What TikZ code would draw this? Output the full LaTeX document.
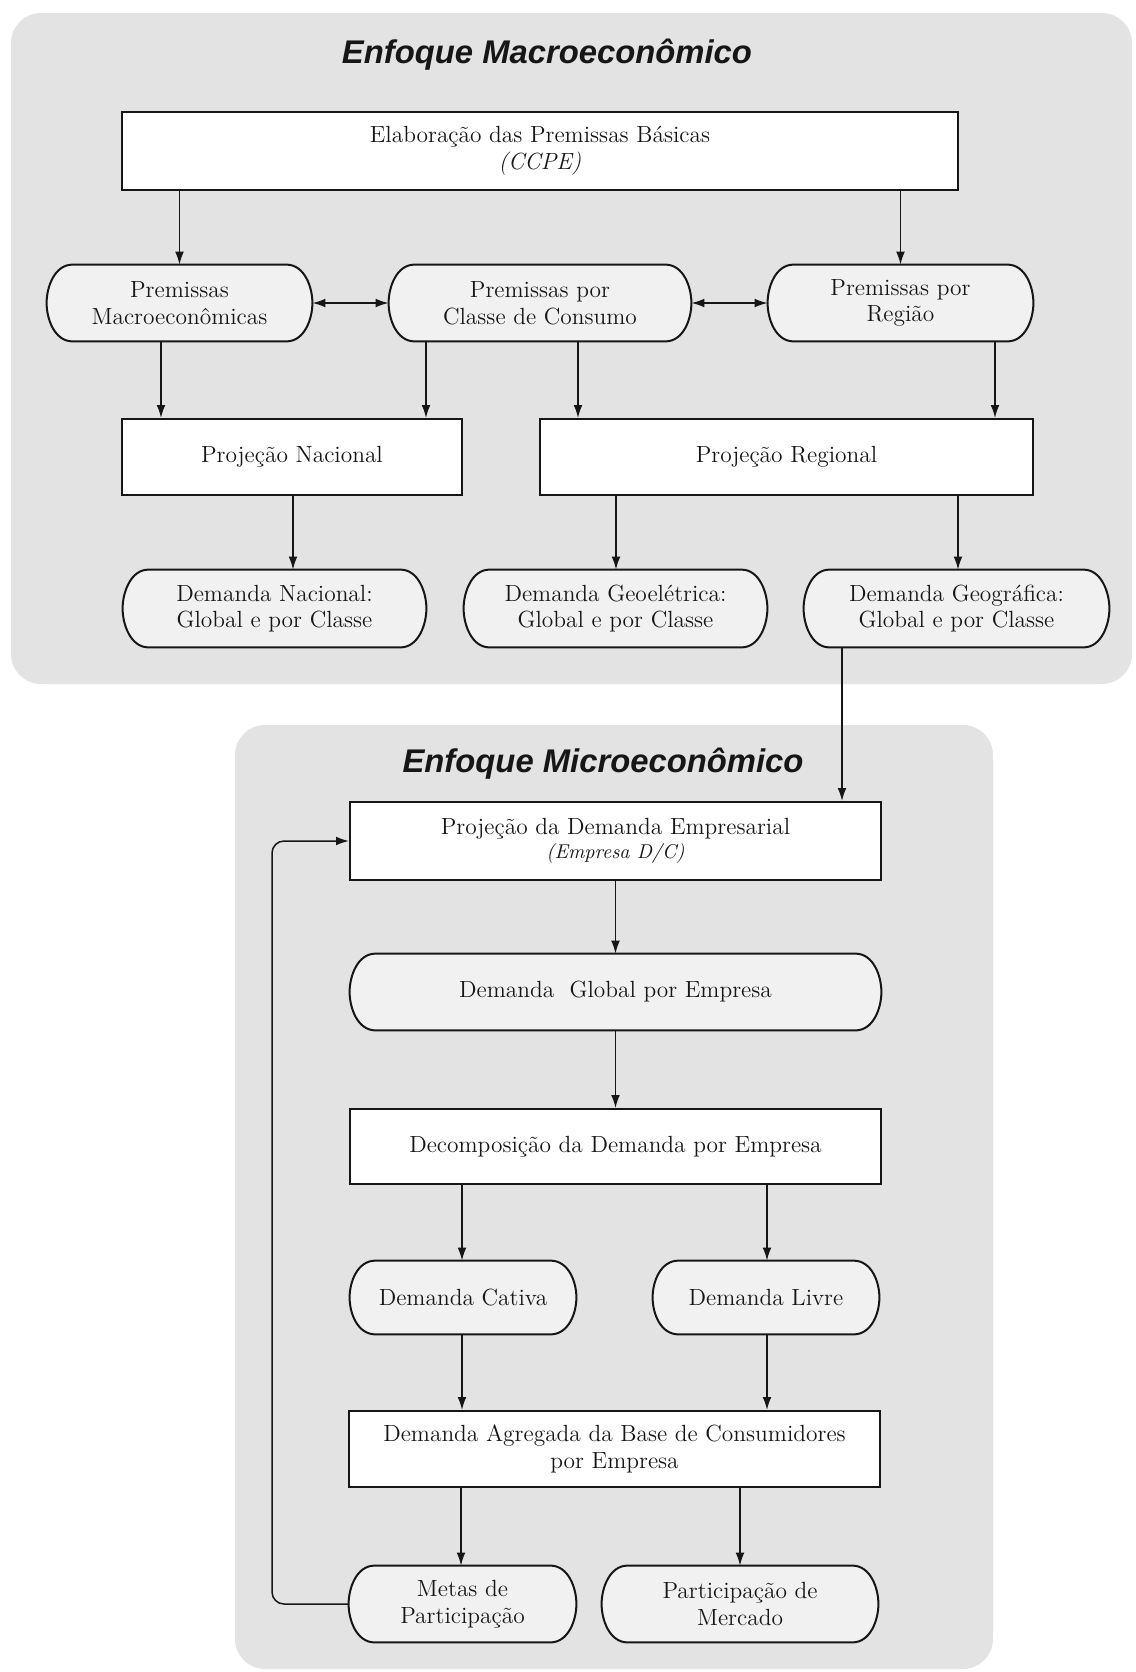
\documentclass[tikz,border=0pt]{standalone}
\usepackage{fontspec}
\newfontfamily\titlefont{Liberation Sans}
\usetikzlibrary{arrows.meta,calc,backgrounds}

\definecolor{panelgray}{RGB}{227,227,227}
\definecolor{capsulefill}{RGB}{241,241,241}
\definecolor{ink}{RGB}{22,22,22}

% outline of a rounded "capsule" step drawn around a named node
\newcommand\capsule[1]{%
  \draw[capline]
    ($(#1.north west)+(26,0)$) -- ($(#1.north east)+(-26,0)$)
    .. controls ($(#1.north east)+(-8,0)$) and ($(#1.east)+(0,-16)$) .. (#1.east)
    .. controls ($(#1.east)+(0,16)$) and ($(#1.south east)+(-8,0)$) .. ($(#1.south east)+(-26,0)$)
    -- ($(#1.south west)+(26,0)$)
    .. controls ($(#1.south west)+(8,0)$) and ($(#1.west)+(0,16)$) .. (#1.west)
    .. controls ($(#1.west)+(0,-16)$) and ($(#1.north west)+(8,0)$) .. ($(#1.north west)+(26,0)$)
    -- cycle;}

% vertical arrow leaving node #1 at horizontal offset #3 and entering node #2
\newcommand\flowdown[3]{%
  \draw[arr] ($(#1.south)+(#3,0)$) coordinate (tmp) -- (tmp |- #2.north);}

\begin{document}
\begin{tikzpicture}[x=0.5pt,y=-0.5pt,
  bodyfont/.style={font=\fontsize{11.7}{13.3}\selectfont\addfontfeatures{FakeBold=0.6}},
  lowfont/.style={font=\fontsize{12.1}{13.3}\selectfont\addfontfeatures{FakeBold=0.6,LetterSpace=1.5}},
  sz/.style 2 args={minimum width=#1*0.5pt, minimum height=#2*0.5pt},
  rectbox/.style={draw=ink, line width=1pt, fill=white, inner sep=0pt,
    align=center, text=ink, bodyfont},
  capnode/.style={inner sep=0pt, align=center, text=ink, bodyfont},
  capline/.style={draw=ink, line width=1pt, fill=capsulefill},
  panel/.style={fill=panelgray, rounded corners=15pt},
  paneltitle/.style={font=\titlefont\bfseries\itshape\fontsize{16.4}{19}\selectfont, text=ink},
  arr/.style={draw=ink, line width=0.75pt, -{Latex[length=6.5pt,width=4.4pt]}},
  dbl/.style={draw=ink, line width=0.75pt, {Latex[length=6.5pt,width=4.4pt]}-{Latex[length=6.5pt,width=4.4pt]}}
]
\useasboundingbox (0,0) rectangle (1136,1672);

% ---------- macro level ----------
\node[paneltitle] (ttlmacro) at (547,55) {Enfoque Macroeconômico};

\node[rectbox, sz={836}{78}] (elab) at (540,151)
  {Elaboração das Premissas Básicas\\ \textit{(CCPE)}};

\node[capnode, sz={265}{76}] (pmac) at (179.5,303) {Premissas\\Macroeconômicas};
\node[capnode, sz={302}{76}] (pcc)  at (540,303)   {Premissas por\\Classe de Consumo};
\node[capnode, sz={265}{76}] (preg) at (900.5,303) {Premissas por\\Região};

\node[rectbox, sz={340}{76}] (pnac) at (292,457)   {Projeção Nacional};
\node[rectbox, sz={493}{76}] (prreg) at (786.5,457) {Projeção Regional};

\node[capnode, sz={303}{77}] (dnac)  at (274.5,608.5) {Demanda Nacional:\\Global e por Classe};
\node[capnode, sz={303}{77}] (dgeo)  at (615.5,608.5) {Demanda Geoelétrica:\\Global e por Classe};
\node[capnode, sz={305}{77}] (dgeog) at (956.5,608.5) {Demanda Geográfica:\\Global e por Classe};

% ---------- micro level ----------
\node[paneltitle] (ttlmicro) at (603,764) {Enfoque Microeconômico};

\begin{scope}[every node/.append style={lowfont}]
\node[rectbox, sz={531}{78}] (pde) at (615.5,841)
  {Projeção da Demanda Empresarial\\[-1pt]{\fontsize{10}{12}\selectfont\itshape (Empresa D/C)}};
\node[capnode, sz={531}{76}] (dge) at (615.5,992) {Demanda\ \ Global por Empresa};
\node[rectbox, sz={531}{75}] (dde) at (615.5,1146.5) {Decomposição da Demanda por Empresa};
\node[capnode, sz={226}{73}] (dc) at (463,1297.5) {Demanda Cativa};
\node[capnode, sz={226}{73}] (dl) at (766,1297.5) {Demanda Livre};
\node[rectbox, sz={531}{76}] (da) at (614.5,1449)
  {Demanda Agregada da Base de Consumidores\\por Empresa};
\node[capnode, sz={227}{76}] (mp) at (462.5,1604) {Metas de\\Participação};
\node[capnode, sz={276}{76}] (pmerc) at (740,1604) {Participação de\\Mercado};
\end{scope}

% ---------- panels and capsule outlines ----------
\begin{scope}[on background layer]
  \fill[panel] (11,13) rectangle (1132,684);
  \fill[panel] (235,725) rectangle (993,1669);
  \foreach \n in {pmac,pcc,preg,dnac,dgeo,dgeog,dge,dc,dl,mp,pmerc}{\capsule{\n}}
\end{scope}

% ---------- connectors ----------
\draw[arr] (elab.south -| pmac.north) -- (pmac.north);
\draw[arr] (elab.south -| preg.north) -- (preg.north);
\draw[dbl] (pmac.east) -- (pcc.west);
\draw[dbl] (pcc.east) -- (preg.west);

\flowdown{pmac}{pnac}{-18.5}
\flowdown{pcc}{pnac}{-114}
\flowdown{pcc}{prreg}{38}
\flowdown{preg}{prreg}{94.5}

\flowdown{pnac}{dnac}{1}
\flowdown{prreg}{dgeo}{-170.5}
\flowdown{prreg}{dgeog}{171.5}

\flowdown{dgeog}{pde}{-114.5}

\draw[arr] (pde.south) -- (dge.north);
\draw[arr] (dge.south) -- (dde.north);
\flowdown{dde}{dc}{-153.5}
\flowdown{dde}{dl}{151.5}
\flowdown{dc}{da}{-1}
\flowdown{dl}{da}{1}
\flowdown{da}{mp}{-153.5}
\flowdown{da}{pmerc}{125.5}

\coordinate (fb) at (272,841);
\draw[arr, rounded corners=6pt] (mp.west) -| (fb) -- (pde.west);
\end{tikzpicture}
\end{document}
